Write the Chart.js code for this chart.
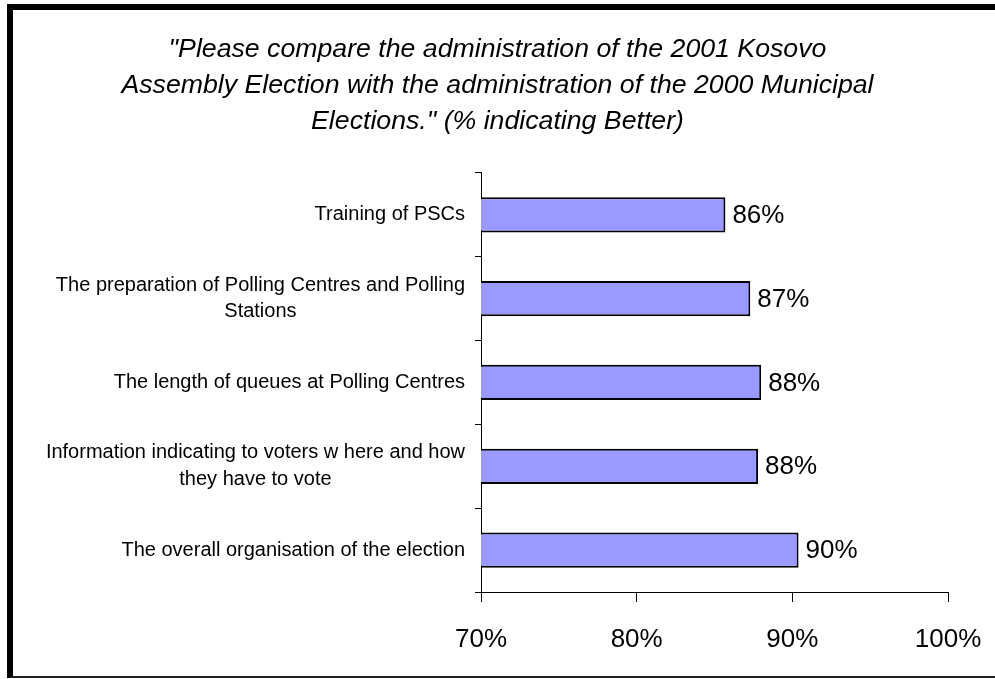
<!DOCTYPE html>
<html>
<head>
<meta charset="utf-8">
<script src="https://cdn.jsdelivr.net/npm/chart.js@4/dist/chart.umd.min.js"></script>
<style>
  html, body { margin: 0; padding: 0; background: #fff; }
  #wrap { position: relative; width: 995px; height: 679px; overflow: hidden; }
  #chart { position: absolute; left: 0; top: 0; }
  /* heavy top/left frame with a thin bottom edge */
  #frame {
    position: absolute; left: 7px; top: 4px; width: 1100px; height: 674px;
    box-sizing: border-box; pointer-events: none;
    border-top: 6px solid #000; border-left: 6px solid #000; border-bottom: 2px solid #222;
  }
</style>
</head>
<body>
<div id="wrap">
  <canvas id="chart" width="995" height="679"></canvas>
  <div id="frame"></div>
</div>
<script>
// Survey items (top to bottom) and share of respondents answering "Better"
const categories = [
  ["Training of PSCs"],
  ["The preparation of Polling Centres and Polling", "Stations"],
  ["The length of queues at Polling Centres"],
  ["Information indicating to voters w here and how", "they have to vote"],
  ["The overall organisation of the election"]
];
const betterPct = [85.7, 87.3, 88.0, 87.8, 90.4];
const xTickValues = [70, 80, 90, 100];
const titleLines = [
  "\"Please compare the administration of the 2001 Kosovo",
  "Assembly Election with the administration of the 2000 Municipal",
  "Elections.\" (% indicating Better)"
];

const FONT = '"Liberation Sans", Arial, Helvetica, sans-serif';
const CAT_FONT_SIZE = 20;
const CAT_LINE = 26.6;
const CAT_GAP = 16;   // space between label block and the axis line

// Writes the rounded percentage just past the end of each bar
const valueLabels = {
  id: 'valueLabels',
  afterDatasetsDraw(chart) {
    const ctx = chart.ctx;
    const meta = chart.getDatasetMeta(0);
    ctx.save();
    ctx.font = '26px ' + FONT;
    ctx.fillStyle = '#000';
    ctx.textAlign = 'left';
    ctx.textBaseline = 'middle';
    meta.data.forEach((bar, i) => {
      ctx.fillText(Math.round(betterPct[i]) + '%', bar.x + 7, bar.y + 1);
    });
    ctx.restore();
  }
};

// Category labels: each block ends at the axis, and its lines are centred on one another
const categoryLabels = {
  id: 'categoryLabels',
  afterDraw(chart) {
    const ctx = chart.ctx;
    const y = chart.scales.y;
    ctx.save();
    ctx.font = CAT_FONT_SIZE + 'px ' + FONT;
    ctx.fillStyle = '#000';
    ctx.textAlign = 'center';
    ctx.textBaseline = 'middle';
    categories.forEach((lines, i) => {
      const widest = Math.max(...lines.map(s => ctx.measureText(s).width));
      const cx = chart.chartArea.left - CAT_GAP - widest / 2;
      const cy = y.getPixelForTick(i);
      const y0 = cy - (lines.length - 1) * CAT_LINE / 2;
      lines.forEach((s, k) => ctx.fillText(s, cx, y0 + k * CAT_LINE));
    });
    ctx.restore();
  }
};

new Chart(document.getElementById('chart'), {
  type: 'bar',
  data: {
    labels: categories,
    datasets: [{
      data: betterPct,
      backgroundColor: '#9999FF',
      borderColor: '#000',
      borderWidth: 2,
      borderSkipped: false,
      categoryPercentage: 1.0,
      barPercentage: 0.42
    }]
  },
  options: {
    indexAxis: 'y',
    responsive: false,
    animation: false,
    layout: { padding: 0 },
    plugins: {
      legend: { display: false },
      tooltip: { enabled: false },
      title: {
        display: true,
        text: titleLines,
        color: '#000',
        font: { family: FONT, size: 26.7, style: 'italic', weight: 'normal', lineHeight: 1.36 },
        padding: { top: 31, bottom: 33 }
      }
    },
    scales: {
      x: {
        type: 'linear',
        min: xTickValues[0],
        max: xTickValues[xTickValues.length - 1],
        afterBuildTicks(scale) {
          scale.ticks = xTickValues.map(v => ({ value: v }));
        },
        ticks: {
          color: '#000',
          font: { family: FONT, size: 26 },
          padding: 22,
          callback: v => v + '%'
        },
        grid: { drawOnChartArea: false, drawTicks: true, tickLength: 10, color: '#000', lineWidth: 1 },
        border: { display: true, color: '#000', width: 1 },
        afterFit(scale) {
          scale.height = 87;
          scale.paddingRight = 47;
        }
      },
      y: {
        type: 'category',
        ticks: { display: false, autoSkip: false },
        grid: { offset: true, drawOnChartArea: false, drawTicks: true, tickLength: 6, color: '#000', lineWidth: 1 },
        border: { display: true, color: '#000', width: 1 },
        afterFit(scale) { scale.width = 481; }
      }
    }
  },
  plugins: [valueLabels, categoryLabels]
});
</script>
</body>
</html>
